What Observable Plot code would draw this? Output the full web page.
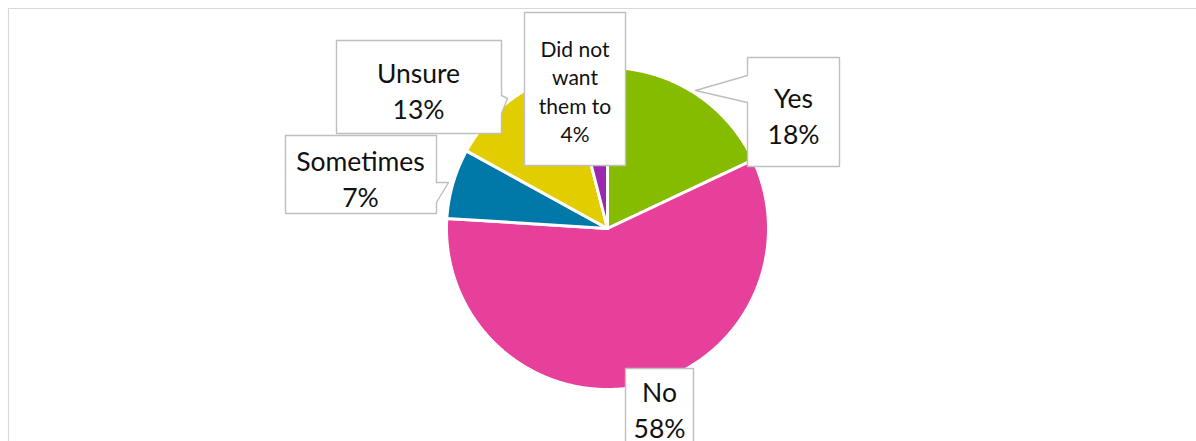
<!DOCTYPE html>
<html>
<head>
<meta charset="utf-8">
<script src="https://cdn.jsdelivr.net/npm/d3@7"></script>
<script src="https://cdn.jsdelivr.net/npm/@observablehq/plot@0.6"></script>
<style>
  html, body { margin: 0; padding: 0; background: #fff; }
  #chart { width: 1196px; height: 441px; overflow: hidden; }
</style>
</head>
<body>
<div id="chart"></div>
<script>
// ---- data ----
const categories = ["Yes", "No", "Sometimes", "Unsure", "Did not want them to"];
const values = [18, 58, 7, 13, 4];
const labelNames = ["Yes", "No", "Sometimes", "Unsure", "Did not\nwant\nthem to"];
const colors = ["#85BC00", "#E6409A", "#0079A9", "#E2CD00", "#9C27B0"];

// ---- layout (pixels) ----
const W = 1196, H = 441;
const cx = 607, cy = 228, R = 161;
// callout boxes: polygon outlines (clockwise) and text anchor
const callouts = [
  {poly: [[747,57],[839,57],[839,166],[747,166],[747,102],[695,90],[747,75]], tx: 793, ty: 114, size: 26.5, lh: 1.34},
  {poly: [[625,368],[693,368],[693,450],[625,450]], tx: 659, ty: 408, size: 26.5, lh: 1.34},
  {poly: [[285,135],[436,135],[436,182],[448,182],[436,202],[436,213],[285,213]], tx: 360, ty: 177, size: 26.5, lh: 1.34},
  {poly: [[336,40],[501,40],[501,95],[507,98],[501,113],[501,133],[336,133]], tx: 418, ty: 89, size: 26.5, lh: 1.34},
  {poly: [[524,12],[625,12],[625,165],[524,165]], tx: 574.5, ty: 90, size: 21, lh: 1.36}
];

// ---- slice geometry from values ----
const total = d3.sum(values);
let acc = 0;
const slices = values.map((v, i) => {
  const a0 = acc / total * 2 * Math.PI;
  acc += v;
  const a1 = acc / total * 2 * Math.PI;
  const n = Math.max(4, Math.ceil((a1 - a0) / (Math.PI / 360)));
  const pts = [{x: cx, y: cy}];
  for (let k = 0; k <= n; k++) {
    const a = a0 + (a1 - a0) * k / n;
    pts.push({x: cx + R * Math.sin(a), y: cy - R * Math.cos(a)});
  }
  return {key: categories[i], color: colors[i], pts};
});

const marks = [];
// frame lines
marks.push(Plot.ruleY([8], {x1: 8, x2: W, stroke: "#D9D9D9", strokeWidth: 1.2}));
marks.push(Plot.ruleX([8], {y1: 8, y2: H, stroke: "#D9D9D9", strokeWidth: 1.2}));
// slices
slices.forEach(s => {
  marks.push(Plot.line(s.pts, {x: "x", y: "y", curve: "linear-closed", fill: s.color, stroke: "white", strokeWidth: 3, strokeLinejoin: "round"}));
});
// callouts
callouts.forEach((c, i) => {
  const pts = c.poly.map(([x, y]) => ({x, y}));
  marks.push(Plot.line(pts, {x: "x", y: "y", curve: "linear-closed", fill: "white", stroke: "#BFBFBF", strokeWidth: 1.4}));
  marks.push(Plot.text([{x: c.tx, y: c.ty, t: labelNames[i] + "\n" + values[i] + "%"}], {
    x: "x", y: "y", text: "t", fontSize: c.size, lineHeight: c.lh,
    fontFamily: "Lato", fill: "#111", textAnchor: "middle"
  }));
});

const chart = Plot.plot({
  width: W, height: H,
  margin: 0,
  x: {domain: [0, W], range: [0, W], axis: null},
  y: {domain: [0, H], range: [0, H], axis: null},
  style: {background: "white"},
  marks
});
document.getElementById("chart").appendChild(chart);
</script>
</body>
</html>
